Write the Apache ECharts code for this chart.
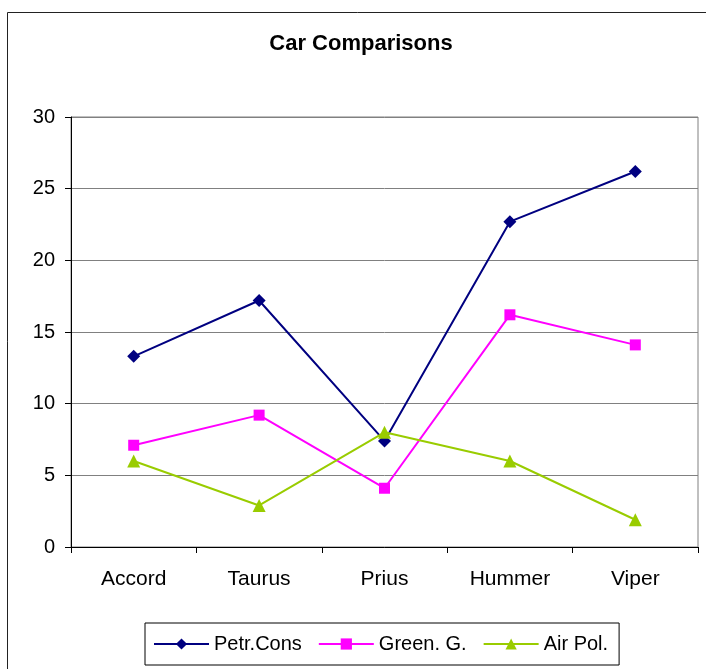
<!DOCTYPE html>
<html><head><meta charset="utf-8">
<script src="https://cdn.jsdelivr.net/npm/echarts@6/dist/echarts.min.js"></script>
<style>html,body{margin:0;padding:0;background:#fff}#c{width:706px;height:669px}</style>
</head><body><div id="c"></div>
<script>
const title = 'Car Comparisons';
const categories = ['Accord', 'Taurus', 'Prius', 'Hummer', 'Viper'];
const petrCons = [13.3, 17.2, 7.4, 22.7, 26.2];
const greenG = [7.1, 9.2, 4.1, 16.2, 14.1];
const airPol = [6.0, 2.9, 8.0, 6.0, 1.9];
const seriesNames = ['Petr.Cons', 'Green. G.', 'Air Pol.'];

const font = 'Liberation Sans, Arial, sans-serif';
const chart = echarts.init(document.getElementById('c'));
function line(name, data, color, symbol, size) {
  return {
    name, type: 'line', data, symbol, symbolSize: size,
    lineStyle: { color, width: 2 }, itemStyle: { color },
    emphasis: { disabled: true }, animation: false
  };
}
chart.setOption({
  animation: false,
  graphic: [
    { type: 'rect', shape: { x: 7.5, y: 12.5, width: 720, height: 700 },
      style: { fill: 'none', stroke: '#222', lineWidth: 1 }, silent: true },
    { type: 'text', x: 361, y: 44,
      style: { text: title, textAlign: 'center', textVerticalAlign: 'middle',
        font: 'bold 22px Liberation Sans, Arial, sans-serif', fill: '#000' }, silent: true }
  ],
  grid: { left: 71, right: 8, top: 117, bottom: 122, show: true, borderColor: '#808080', borderWidth: 1 },
  legend: {
    left: 145, top: 623,
    padding: [11, 11, 11, 8], itemGap: 16, itemWidth: 55, itemHeight: 14,
    borderColor: '#000', borderWidth: 1,
    textStyle: { fontFamily: font, fontSize: 20, color: '#000' },
    data: seriesNames
  },
  xAxis: {
    type: 'category', data: categories, boundaryGap: true,
    axisLine: { lineStyle: { color: '#000', width: 1 } },
    axisTick: { show: true, length: 6, lineStyle: { color: '#000' } },
    axisLabel: { fontFamily: font, fontSize: 21, color: '#000', margin: 22 }
  },
  yAxis: {
    type: 'value', min: 0, max: 30, interval: 5,
    axisLine: { show: true, lineStyle: { color: '#000', width: 1 } },
    axisTick: { show: true, length: 6, lineStyle: { color: '#000' } },
    axisLabel: { fontFamily: font, fontSize: 20, color: '#000', margin: 16 },
    splitLine: { lineStyle: { color: '#808080', width: 1 } }
  },
  series: [
    line(seriesNames[0], petrCons, '#000080', 'diamond', 13),
    line(seriesNames[1], greenG, '#FF00FF', 'rect', 11),
    line(seriesNames[2], airPol, '#99CC00', 'triangle', 13)
  ]
});
</script></body></html>
